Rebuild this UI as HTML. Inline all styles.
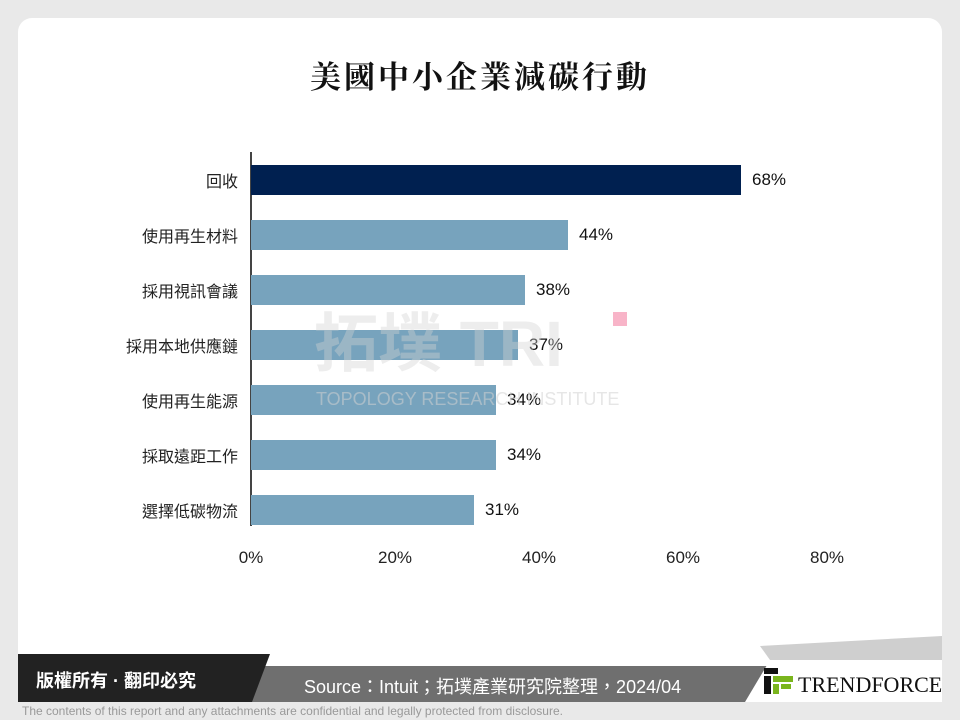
<!DOCTYPE html>
<html><head><meta charset="utf-8"><style>
body{margin:0;width:960px;height:720px;background:#e9e9e9;position:relative;overflow:hidden;font-family:"Liberation Sans","Noto Sans CJK TC",sans-serif}
.card{position:absolute;left:18px;top:18px;width:924px;height:684px;background:#fff;border-radius:14px;overflow:hidden}
.t{position:absolute;left:0;width:960px;top:52px;text-align:center;font-family:"Noto Serif CJK SC","Noto Sans CJK TC",serif;font-size:31px;font-weight:bold;letter-spacing:3px;color:#111}
.lab{position:absolute;right:722px;font-size:16px;color:#222;transform:translateY(-50%)}
.bar{position:absolute;left:251px;height:30px;background:#77a3bd}
.val{position:absolute;font-size:17px;color:#111;transform:translateY(-50%)}
.tick{position:absolute;top:548px;font-size:17px;color:#222;transform:translateX(-50%)}
.wm{position:absolute;z-index:5}
</style></head><body>
<div class="card"></div>
<div class="t">美國中小企業減碳行動</div>
<div style="position:absolute;left:250px;top:152px;width:1.5px;height:374px;background:#444"></div>

<div class="lab" style="top:180px">回收</div>
<div class="bar" style="top:165px;width:490px;background:#002050"></div>
<div class="val" style="top:180px;left:752px">68%</div>

<div class="lab" style="top:235px">使用再生材料</div>
<div class="bar" style="top:220px;width:317px"></div>
<div class="val" style="top:235px;left:579px">44%</div>

<div class="lab" style="top:290px">採用視訊會議</div>
<div class="bar" style="top:275px;width:274px"></div>
<div class="val" style="top:290px;left:536px">38%</div>

<div class="lab" style="top:345px">採用本地供應鏈</div>
<div class="bar" style="top:330px;width:267px"></div>
<div class="val" style="top:345px;left:529px">37%</div>

<div class="lab" style="top:400px">使用再生能源</div>
<div class="bar" style="top:385px;width:245px"></div>
<div class="val" style="top:400px;left:507px">34%</div>

<div class="lab" style="top:455px">採取遠距工作</div>
<div class="bar" style="top:440px;width:245px"></div>
<div class="val" style="top:455px;left:507px">34%</div>

<div class="lab" style="top:510px">選擇低碳物流</div>
<div class="bar" style="top:495px;width:223px"></div>
<div class="val" style="top:510px;left:485px">31%</div>

<div class="wm" style="left:314px;top:312px;font-size:64px;font-weight:bold;color:rgba(210,210,210,0.4);line-height:1">拓墣 TRI</div>
<div class="wm" style="left:316px;top:389px;font-size:18px;color:rgba(210,210,210,0.55);white-space:nowrap">TOPOLOGY RESEARCH INSTITUTE</div>
<div style="position:absolute;left:613px;top:312px;width:14px;height:14px;background:#f8b4c8"></div>

<div class="tick" style="left:251px">0%</div>
<div class="tick" style="left:395px">20%</div>
<div class="tick" style="left:539px">40%</div>
<div class="tick" style="left:683px">60%</div>
<div class="tick" style="left:827px">80%</div>

<svg style="position:absolute;left:0;top:0" width="960" height="720">
<polygon points="760,646 942,636 942,660 770,660" fill="#cfcfcf"/>
<polygon points="150,666 770,666 750,702 130,702" fill="#6f6f6f"/>
<polygon points="18,654 270,654 252,702 18,702" fill="#222"/>
<polygon points="770,660 942,660 942,702 745,702" fill="#fff"/>
<rect x="764" y="668" width="14" height="6" fill="#111"/><rect x="764" y="676" width="7" height="18" fill="#111"/>
<rect x="773" y="676" width="20" height="6" fill="#7ab51d"/><rect x="773" y="684" width="6" height="10" fill="#7ab51d"/><rect x="781" y="684" width="10" height="5" fill="#7ab51d"/>
</svg>
<div style="position:absolute;left:36px;top:667px;font-size:18px;font-weight:bold;color:#fff">版權所有 · 翻印必究</div>
<div style="position:absolute;left:304px;top:673px;font-size:18px;color:#fff;white-space:nowrap">Source：Intuit；拓墣產業研究院整理，2024/04</div>
<div style="position:absolute;left:798px;top:672px;font-family:'Liberation Serif',serif;font-size:22px;color:#111">TRENDFORCE</div>
<div style="position:absolute;left:22px;top:704px;font-size:12px;color:#999">The contents of this report and any attachments are confidential and legally protected from disclosure.</div>
</body></html>
